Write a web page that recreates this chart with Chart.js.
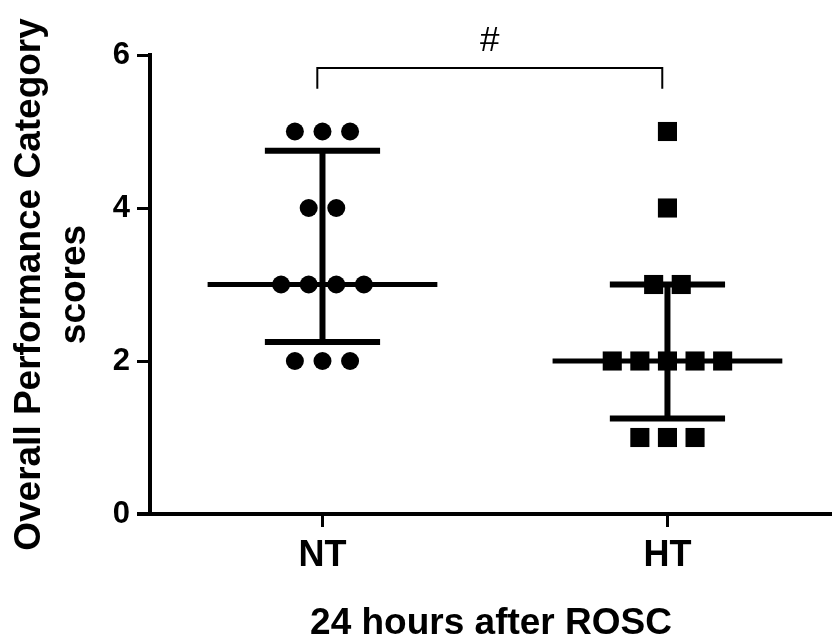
<!DOCTYPE html>
<html>
<head>
<meta charset="utf-8">
<script src="https://cdn.jsdelivr.net/npm/chart.js@4.4.0/dist/chart.umd.min.js"></script>
<style>
  html, body { margin: 0; padding: 0; background: #fff; }
  #wrap { width: 832px; height: 639px; position: relative; }
</style>
</head>
<body>
<div id="wrap"><canvas id="opcChart"></canvas></div>
<script>
// values
const groups = ['NT', 'HT'];
const ntScores = [5, 5, 5, 4, 4, 3, 3, 3, 3, 2, 2, 2];
const ntJitter = [-0.08, 0, 0.08, -0.04, 0.04, -0.12, -0.04, 0.04, 0.12, -0.08, 0, 0.08];
const htScores = [5, 4, 3, 3, 2, 2, 2, 2, 2, 1, 1, 1];
const htJitter = [0, 0, -0.04, 0.04, -0.16, -0.08, 0, 0.08, 0.16, -0.08, 0, 0.08];
const medians = [3, 2];
const upperQ = [4.75, 3];
const lowerQ = [2.25, 1.25];
const yTicks = [0, 2, 4, 6];
const bracketX = [-0.015, 0.985];
const bracketY = [5.56, 5.83];
const signifLabel = '#';

Chart.defaults.font.family = "'Liberation Sans', Arial, sans-serif";
Chart.defaults.color = '#000';

const toPoints = (scores, jitter, g) => scores.map((s, i) => ({ x: g + jitter[i], y: s }));

// median line + interquartile whiskers, drawn through the scales
const errorBars = {
    id: 'errorBars',
    afterDatasetsDraw(chart) {
        const { ctx, scales: { x, y } } = chart;
        ctx.save();
        ctx.strokeStyle = '#000';
        ctx.lineCap = 'butt';
        groups.forEach((g, i) => {
            const seg = (x0, y0, x1, y1, w) => {
                ctx.lineWidth = w;
                ctx.beginPath();
                ctx.moveTo(x.getPixelForValue(x0), y.getPixelForValue(y0));
                ctx.lineTo(x.getPixelForValue(x1), y.getPixelForValue(y1));
                ctx.stroke();
            };
            seg(i - 0.333, medians[i], i + 0.333, medians[i], 5);
            seg(i, lowerQ[i], i, upperQ[i], 6);
            seg(i - 0.167, upperQ[i], i + 0.167, upperQ[i], 6);
            seg(i - 0.167, lowerQ[i], i + 0.167, lowerQ[i], 6);
        });
        ctx.restore();
    },
    afterDraw(chart) {
        const { ctx, chartArea, scales: { x, y } } = chart;
        ctx.save();
        // significance bracket
        ctx.strokeStyle = '#000';
        ctx.lineWidth = 2;
        ctx.beginPath();
        ctx.moveTo(x.getPixelForValue(bracketX[0]), y.getPixelForValue(bracketY[0]));
        ctx.lineTo(x.getPixelForValue(bracketX[0]), y.getPixelForValue(bracketY[1]));
        ctx.lineTo(x.getPixelForValue(bracketX[1]), y.getPixelForValue(bracketY[1]));
        ctx.lineTo(x.getPixelForValue(bracketX[1]), y.getPixelForValue(bracketY[0]));
        ctx.stroke();
        ctx.fillStyle = '#000';
        ctx.font = "35px 'Liberation Sans', Arial, sans-serif";
        ctx.textAlign = 'center';
        ctx.textBaseline = 'middle';
        ctx.fillText(signifLabel, x.getPixelForValue((bracketX[0] + bracketX[1]) / 2), y.getPixelForValue(6.18));
        // x axis runs a little past the y axis
        ctx.lineWidth = 4;
        ctx.beginPath();
        ctx.moveTo(chartArea.left - 13, y.getPixelForValue(0));
        ctx.lineTo(chartArea.left, y.getPixelForValue(0));
        ctx.stroke();
        ctx.restore();
    }
};

new Chart(document.getElementById('opcChart'), {
    type: 'scatter',
    data: {
        datasets: [
            {
                label: groups[0],
                data: toPoints(ntScores, ntJitter, 0),
                pointStyle: 'circle',
                pointRadius: 9,
                backgroundColor: '#000',
                borderColor: '#000',
                borderWidth: 0
            },
            {
                label: groups[1],
                data: toPoints(htScores, htJitter, 1),
                pointStyle: 'rect',
                pointRadius: 13.5,
                backgroundColor: '#000',
                borderColor: '#000',
                borderWidth: 0
            }
        ]
    },
    plugins: [errorBars],
    options: {
        responsive: true,
        maintainAspectRatio: false,
        animation: false,
        layout: { autoPadding: false, padding: { top: 55, left: 0, right: 0, bottom: 0 } },
        plugins: {
            legend: { display: false },
            tooltip: { enabled: false }
        },
        scales: {
            x: {
                type: 'linear',
                min: -0.5,
                max: 1.477,
                afterBuildTicks(axis) {
                    axis.ticks = [0, 1].map(v => ({ value: v }));
                },
                afterFit(scale) { scale.height = 125; },
                ticks: {
                    autoSkip: false,
                    padding: 7,
                    font: { size: 36, weight: 'bold' },
                    callback: (v) => groups[v]
                },
                grid: {
                    drawOnChartArea: false,
                    drawTicks: true,
                    tickLength: 13,
                    lineWidth: 3,
                    color: '#000'
                },
                border: { color: '#000', width: 4 },
                title: {
                    display: true,
                    text: '24 hours after ROSC',
                    font: { size: 37, weight: 'bold', lineHeight: 0.81 },
                    padding: { top: 0, bottom: 0 }
                }
            },
            y: {
                min: 0,
                max: 6,
                afterBuildTicks(axis) {
                    axis.ticks = yTicks.map(v => ({ value: v }));
                },
                afterFit(scale) { scale.width = 150; },
                ticks: {
                    padding: 7,
                    font: { size: 31, weight: 'bold' }
                },
                grid: {
                    drawOnChartArea: false,
                    drawTicks: true,
                    tickLength: 13,
                    lineWidth: 3,
                    color: '#000'
                },
                border: { color: '#000', width: 4 },
                title: {
                    display: true,
                    text: ['Overall Performance Category', 'scores'],
                    font: { size: 37, weight: 'bold', lineHeight: 1.22 },
                    padding: { top: 7, bottom: 0 }
                }
            }
        }
    }
});
</script>
</body>
</html>
